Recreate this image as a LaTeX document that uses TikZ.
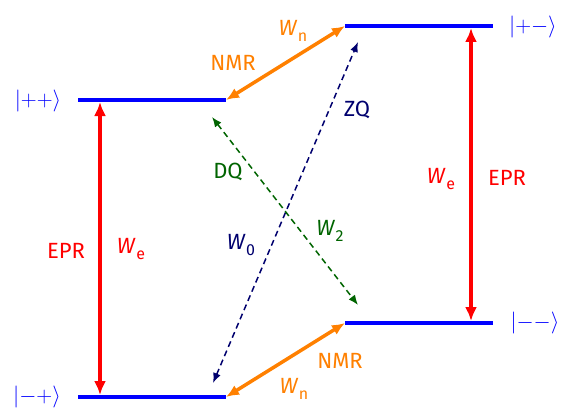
\RequirePackage{fix-cm}
\documentclass[tikz,border=0pt]{standalone}
\usepackage{fontspec}
\setmainfont{Fira Sans}
\usetikzlibrary{arrows.meta}
\definecolor{lvlblue}{RGB}{0,0,255}
\definecolor{eprred}{RGB}{255,0,0}
\definecolor{nmrorange}{RGB}{255,128,0}
\definecolor{zqnavy}{RGB}{0,0,110}
\definecolor{dqgreen}{RGB}{0,100,0}
\newcommand{\Wrate}[1]{\textit{W}\kern0.5pt\raisebox{-0.45ex}{\fontsize{16}{16}\selectfont #1}}
\newcommand{\myket}[1]{$\bigl\vert#1\bigr\rangle$}
\tikzset{
  level/.style={lvlblue, line width=4pt},
  eprarrow/.style={eprred, line width=3.5pt, {Latex[length=14pt,width=12pt]}-{Latex[length=14pt,width=12pt]}},
  nmrarrow/.style={nmrorange, line width=3.5pt, {Latex[length=13pt,width=11pt]}-{Latex[length=13pt,width=11pt]}},
  zqarrow/.style={zqnavy, line width=1.5pt, dash pattern=on 6pt off 4pt, {Latex[length=10pt,width=8pt]}-{Latex[length=10pt,width=8pt]}},
  dqarrow/.style={dqgreen, line width=1.5pt, dash pattern=on 6pt off 4pt, {Latex[length=10pt,width=8pt]}-{Latex[length=10pt,width=8pt]}},
  lbl/.style={inner sep=0pt, font=\fontsize{22}{26}\selectfont}
}
\begin{document}
\begin{tikzpicture}[x=1pt,y=-1pt]
\useasboundingbox (0,0) rectangle (565,412);
% level endpoints
\coordinate (ppL) at (78,100);  \coordinate (ppR) at (226,100);
\coordinate (pmL) at (345,26);  \coordinate (pmR) at (493,26);
\coordinate (mmL) at (345,323); \coordinate (mmR) at (493,323);
\coordinate (mpL) at (78,397);  \coordinate (mpR) at (226,397);
\draw[level] (ppL) -- (ppR);
\draw[level] (pmL) -- (pmR);
\draw[level] (mmL) -- (mmR);
\draw[level] (mpL) -- (mpR);
% ket labels
\node[lbl, lvlblue] (kpp) at (38,101) {\myket{{+}{+}}};
\node[lbl, lvlblue] (kpm) at (533,27) {\myket{{+}{-}}};
\node[lbl, lvlblue] (kmm) at (535,323) {\myket{{-}{-}}};
\node[lbl, lvlblue] (kmp) at (37,397) {\myket{{-}{+}}};
% EPR transitions
\coordinate (eLt) at (100,102); \coordinate (eLb) at (100,395);
\coordinate (eRt) at (471,28);  \coordinate (eRb) at (471,321);
\draw[eprarrow] (eLt) -- (eLb);
\draw[eprarrow] (eRt) -- (eRb);
\node[lbl, eprred] (eprL) at (66,251) {EPR};
\node[lbl, eprred] (weL) at (131,249) {\Wrate{e}};
\node[lbl, eprred] (weR) at (441,179) {\Wrate{e}};
\node[lbl, eprred] (eprR) at (507,178) {EPR};
% NMR transitions
\draw[nmrarrow] (ppR) -- (pmL);
\draw[nmrarrow] (mpR) -- (mmL);
\node[lbl, nmrorange] (nmrT) at (233,63) {NMR};
\node[lbl, nmrorange] (wnT) at (293,31) {\Wrate{n}};
\node[lbl, nmrorange] (nmrB) at (340,361) {NMR};
\node[lbl, nmrorange] (wnB) at (294,389) {\Wrate{n}};
% ZQ and DQ
\coordinate (zqB) at (213,383); \coordinate (zqT) at (358,42);
\coordinate (dqT) at (212,117); \coordinate (dqB) at (358,305);
\draw[zqarrow] (zqB) -- (zqT);
\draw[dqarrow] (dqT) -- (dqB);
\node[lbl, zqnavy] (zq) at (357,110) {ZQ};
\node[lbl, zqnavy] (w0) at (241,245) {\Wrate{0}};
\node[lbl, dqgreen] (dq) at (228,172) {DQ};
\node[lbl, dqgreen] (w2) at (330,231) {\Wrate{2}};
\end{tikzpicture}
\end{document}
